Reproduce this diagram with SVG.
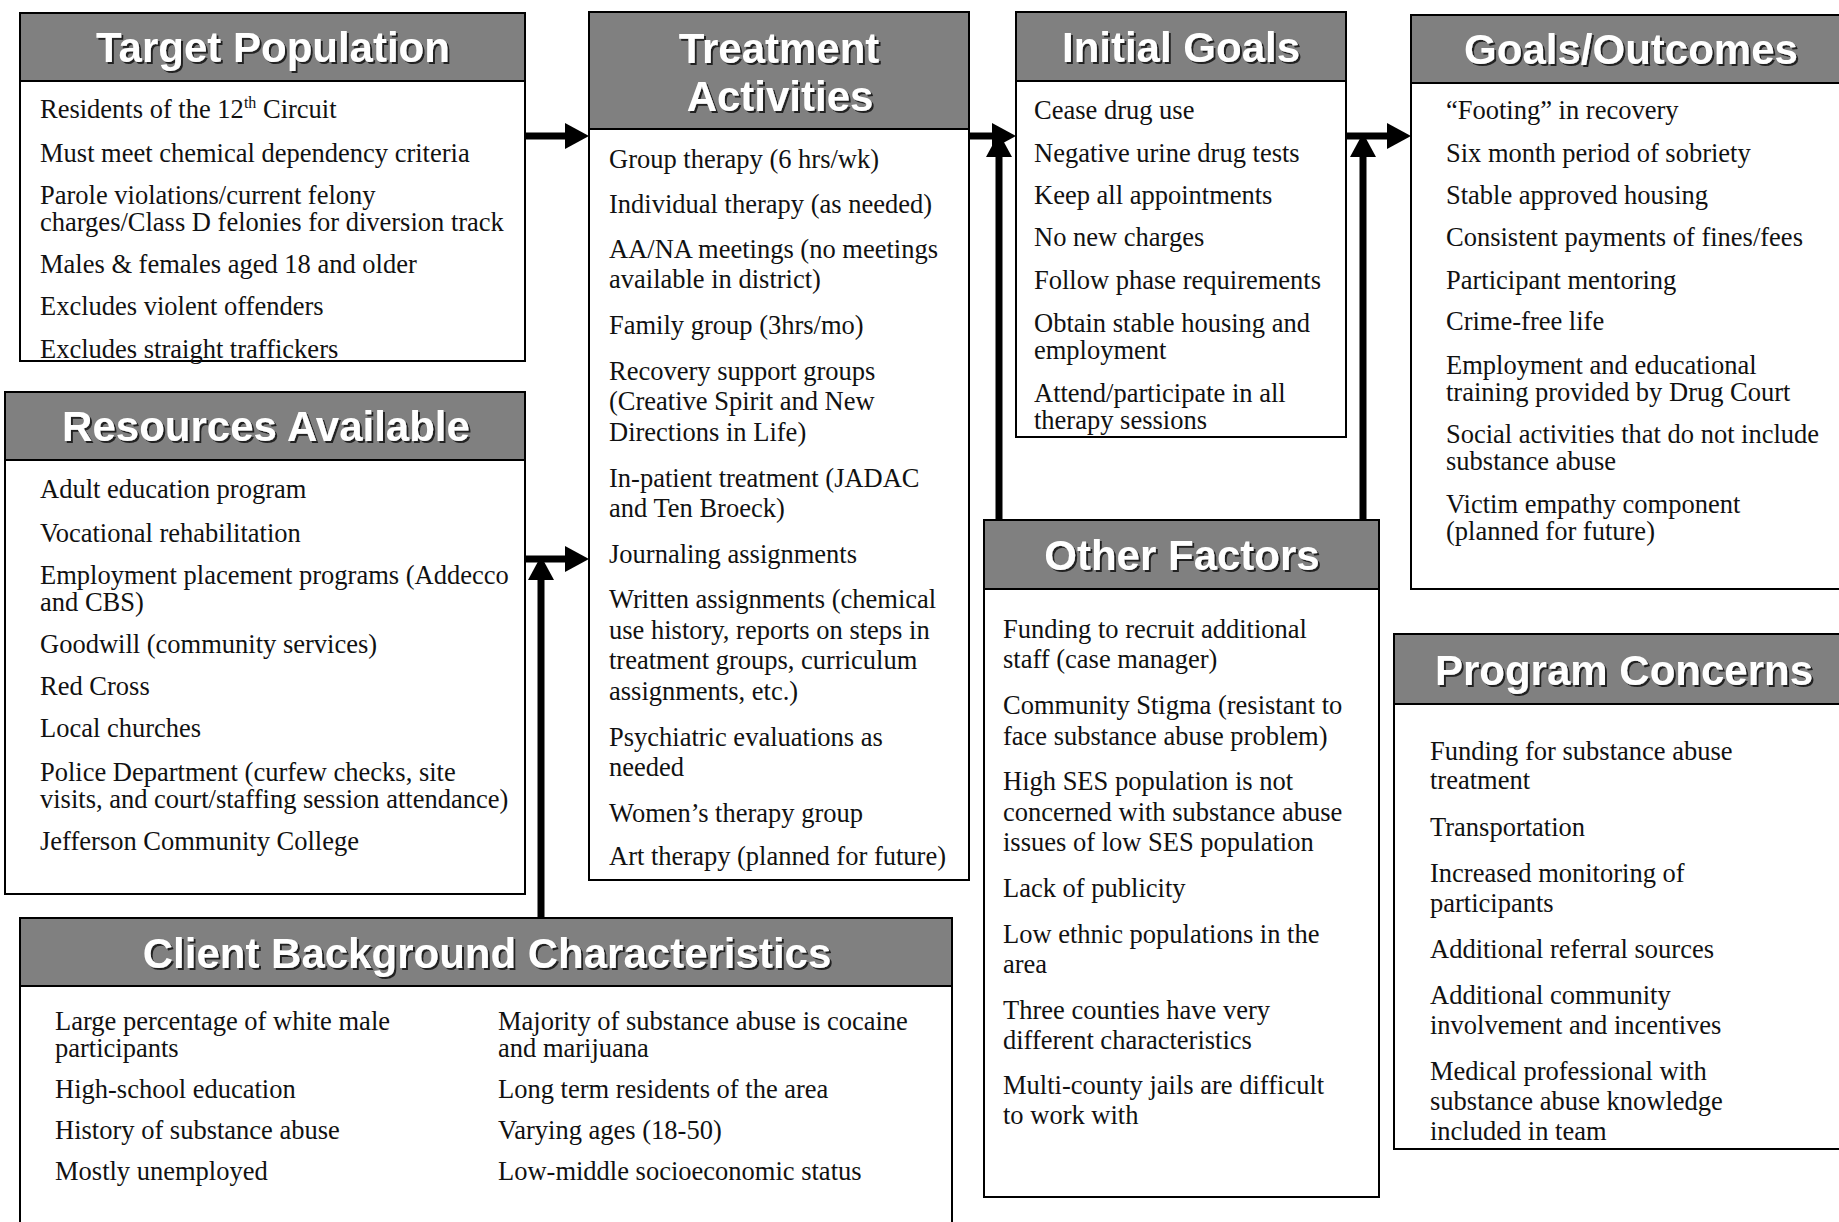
<svg xmlns="http://www.w3.org/2000/svg" width="1839" height="1222" viewBox="0 0 1839 1222">
<defs>
<filter id="sh" x="-5%" y="-30%" width="110%" height="160%">
<feDropShadow dx="2" dy="2" stdDeviation="0.7" flood-color="#1a1a1a" flood-opacity="0.95"/>
</filter>
<marker id="ah" viewBox="0 0 24 26" refX="0" refY="13" markerWidth="24" markerHeight="26" markerUnits="userSpaceOnUse" orient="auto">
<path d="M0,0 L24,13 L0,26 z" fill="#000"/>
</marker>
</defs>
<style>
.body{fill:#fff;stroke:#000;stroke-width:2}
.head{fill:#808080;stroke:#000;stroke-width:2}
.title{font-family:"Liberation Sans",Arial,sans-serif;font-weight:bold;font-size:42px;fill:#fff;text-anchor:middle;filter:url(#sh)}
.t{font-family:"Liberation Serif","Times New Roman",serif;font-size:26.5px;fill:#111}
.conn{stroke:#000;stroke-width:7;fill:none}
</style>
<rect width="1839" height="1222" fill="#fff"/>

<g id="target-population">
<rect class="body" x="20" y="13" width="505" height="348"/>
<rect class="head" x="20" y="13" width="505" height="68"/>
<text class="title" x="273" y="62">Target Population</text>
<text class="t" x="40" y="118">Residents of the 12<tspan font-size="16" dy="-10">th</tspan><tspan dy="10"> Circuit</tspan></text>
<text class="t" x="40" y="162">Must meet chemical dependency criteria</text>
<text class="t" x="40" y="204">Parole violations/current felony</text>
<text class="t" x="40" y="231">charges/Class D felonies for diversion track</text>
<text class="t" x="40" y="273">Males &amp; females aged 18 and older</text>
<text class="t" x="40" y="315">Excludes violent offenders</text>
<text class="t" x="40" y="358">Excludes straight traffickers</text>
</g>

<g id="resources-available">
<rect class="body" x="5" y="392" width="520" height="502"/>
<rect class="head" x="5" y="392" width="520" height="68"/>
<text class="title" x="266" y="441">Resources Available</text>
<text class="t" x="40" y="498">Adult education program</text>
<text class="t" x="40" y="542">Vocational rehabilitation</text>
<text class="t" x="40" y="584">Employment placement programs (Addecco</text>
<text class="t" x="40" y="611">and CBS)</text>
<text class="t" x="40" y="653">Goodwill (community services)</text>
<text class="t" x="40" y="695">Red Cross</text>
<text class="t" x="40" y="737">Local churches</text>
<text class="t" x="40" y="781">Police Department (curfew checks, site</text>
<text class="t" x="40" y="808">visits, and court/staffing session attendance)</text>
<text class="t" x="40" y="850">Jefferson Community College</text>
</g>

<g id="treatment-activities">
<rect class="body" x="589" y="12" width="380" height="868"/>
<rect class="head" x="589" y="12" width="380" height="117"/>
<text class="title" x="779" y="63">Treatment</text>
<text class="title" x="780" y="111">Activities</text>
<text class="t" x="609" y="168">Group therapy (6 hrs/wk)</text>
<text class="t" x="609" y="213">Individual therapy (as needed)</text>
<text class="t" x="609" y="258">AA/NA meetings (no meetings</text>
<text class="t" x="609" y="288">available in district)</text>
<text class="t" x="609" y="334">Family group (3hrs/mo)</text>
<text class="t" x="609" y="380">Recovery support groups</text>
<text class="t" x="609" y="410">(Creative Spirit and New</text>
<text class="t" x="609" y="441">Directions in Life)</text>
<text class="t" x="609" y="487">In-patient treatment (JADAC</text>
<text class="t" x="609" y="517">and Ten Broeck)</text>
<text class="t" x="609" y="563">Journaling assignments</text>
<text class="t" x="609" y="608">Written assignments (chemical</text>
<text class="t" x="609" y="639">use history, reports on steps in</text>
<text class="t" x="609" y="669">treatment groups, curriculum</text>
<text class="t" x="609" y="700">assignments, etc.)</text>
<text class="t" x="609" y="746">Psychiatric evaluations as</text>
<text class="t" x="609" y="776">needed</text>
<text class="t" x="609" y="822">Women’s therapy group</text>
<text class="t" x="609" y="865">Art therapy (planned for future)</text>
</g>

<g id="initial-goals">
<rect class="body" x="1016" y="12" width="330" height="425"/>
<rect class="head" x="1016" y="12" width="330" height="69"/>
<text class="title" x="1181" y="62">Initial Goals</text>
<text class="t" x="1034" y="119">Cease drug use</text>
<text class="t" x="1034" y="162">Negative urine drug tests</text>
<text class="t" x="1034" y="204">Keep all appointments</text>
<text class="t" x="1034" y="246">No new charges</text>
<text class="t" x="1034" y="289">Follow phase requirements</text>
<text class="t" x="1034" y="332">Obtain stable housing and</text>
<text class="t" x="1034" y="359">employment</text>
<text class="t" x="1034" y="402">Attend/participate in all</text>
<text class="t" x="1034" y="429">therapy sessions</text>
</g>

<g id="goals-outcomes">
<rect class="body" x="1411" y="15" width="440" height="574"/>
<rect class="head" x="1411" y="15" width="440" height="68"/>
<text class="title" x="1631" y="64">Goals/Outcomes</text>
<text class="t" x="1446" y="119">“Footing” in recovery</text>
<text class="t" x="1446" y="162">Six month period of sobriety</text>
<text class="t" x="1446" y="204">Stable approved housing</text>
<text class="t" x="1446" y="246">Consistent payments of fines/fees</text>
<text class="t" x="1446" y="289">Participant mentoring</text>
<text class="t" x="1446" y="330">Crime-free life</text>
<text class="t" x="1446" y="374">Employment and educational</text>
<text class="t" x="1446" y="401">training provided by Drug Court</text>
<text class="t" x="1446" y="443">Social activities that do not include</text>
<text class="t" x="1446" y="470">substance abuse</text>
<text class="t" x="1446" y="513">Victim empathy component</text>
<text class="t" x="1446" y="540">(planned for future)</text>
</g>

<g id="other-factors">
<rect class="body" x="984" y="520" width="395" height="677"/>
<rect class="head" x="984" y="520" width="395" height="69"/>
<text class="title" x="1182" y="570">Other Factors</text>
<text class="t" x="1003" y="638">Funding to recruit additional</text>
<text class="t" x="1003" y="668">staff (case manager)</text>
<text class="t" x="1003" y="714">Community Stigma (resistant to</text>
<text class="t" x="1003" y="745">face substance abuse problem)</text>
<text class="t" x="1003" y="790">High SES population is not</text>
<text class="t" x="1003" y="821">concerned with substance abuse</text>
<text class="t" x="1003" y="851">issues of low SES population</text>
<text class="t" x="1003" y="897">Lack of publicity</text>
<text class="t" x="1003" y="943">Low ethnic populations in the</text>
<text class="t" x="1003" y="973">area</text>
<text class="t" x="1003" y="1019">Three counties have very</text>
<text class="t" x="1003" y="1049">different characteristics</text>
<text class="t" x="1003" y="1094">Multi-county jails are difficult</text>
<text class="t" x="1003" y="1124">to work with</text>
</g>

<g id="program-concerns">
<rect class="body" x="1394" y="634" width="460" height="515"/>
<rect class="head" x="1394" y="634" width="460" height="70"/>
<text class="title" x="1624" y="685">Program Concerns</text>
<text class="t" x="1430" y="760">Funding for substance abuse</text>
<text class="t" x="1430" y="789">treatment</text>
<text class="t" x="1430" y="836">Transportation</text>
<text class="t" x="1430" y="882">Increased monitoring of</text>
<text class="t" x="1430" y="912">participants</text>
<text class="t" x="1430" y="958">Additional referral sources</text>
<text class="t" x="1430" y="1004">Additional community</text>
<text class="t" x="1430" y="1034">involvement and incentives</text>
<text class="t" x="1430" y="1080">Medical professional with</text>
<text class="t" x="1430" y="1110">substance abuse knowledge</text>
<text class="t" x="1430" y="1140">included in team</text>
</g>

<g id="client-background">
<rect class="body" x="20" y="918" width="932" height="330"/>
<rect class="head" x="20" y="918" width="932" height="68"/>
<text class="title" x="487" y="968">Client Background Characteristics</text>
<text class="t" x="55" y="1030">Large percentage of white male</text>
<text class="t" x="55" y="1057">participants</text>
<text class="t" x="55" y="1098">High-school education</text>
<text class="t" x="55" y="1139">History of substance abuse</text>
<text class="t" x="55" y="1180">Mostly unemployed</text>
<text class="t" x="498" y="1030">Majority of substance abuse is cocaine</text>
<text class="t" x="498" y="1057">and marijuana</text>
<text class="t" x="498" y="1098">Long term residents of the area</text>
<text class="t" x="498" y="1139">Varying ages (18-50)</text>
<text class="t" x="498" y="1180">Low-middle socioeconomic status</text>
</g>

<g id="connectors">
<line class="conn" x1="526" y1="136" x2="565" y2="136" marker-end="url(#ah)"/>
<line class="conn" x1="526" y1="559" x2="565" y2="559" marker-end="url(#ah)"/>
<line class="conn" x1="541" y1="917" x2="541" y2="580" marker-end="url(#ah)"/>
<line class="conn" x1="970" y1="136" x2="992" y2="136" marker-end="url(#ah)"/>
<line class="conn" x1="999" y1="519" x2="999" y2="157" marker-end="url(#ah)"/>
<line class="conn" x1="1347" y1="136" x2="1387" y2="136" marker-end="url(#ah)"/>
<line class="conn" x1="1363" y1="519" x2="1363" y2="157" marker-end="url(#ah)"/>
</g>
</svg>
